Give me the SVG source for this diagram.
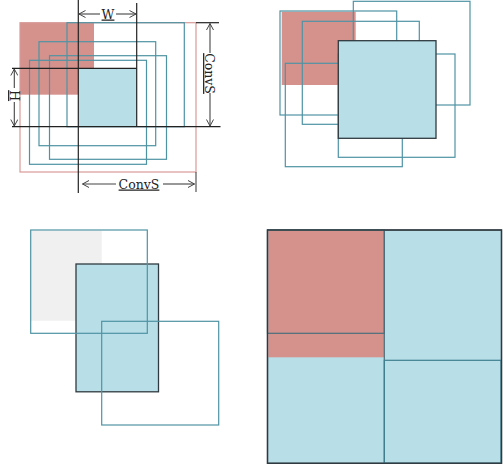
<svg xmlns="http://www.w3.org/2000/svg" width="503" height="465" viewBox="0 0 503 465">
<defs>
<style>
.red{fill:#d5928d;stroke:none}
.blue{fill:#b8dee8;stroke:none}
.blueb{fill:#b8dee8;stroke:#2f3a40;stroke-width:1.3}
.gray{fill:#f0f0f0;stroke:none}
.teal{fill:none;stroke:#4f93a3;stroke-width:1.2}
.redo{fill:none;stroke:#d89a98;stroke-width:1.2}
.blk{fill:none;stroke:#222;stroke-width:1.2}
.dim{fill:none;stroke:#444;stroke-width:1.1}
.lbl{font-family:"DejaVu Serif","Liberation Serif",serif;font-size:12.5px;fill:#222;text-decoration:underline}
</style>
<marker id="ah" viewBox="0 0 8 8" refX="7.5" refY="4" markerWidth="8" markerHeight="8" markerUnits="userSpaceOnUse" orient="auto-start-reverse">
<path d="M1,0.5 L7.5,4 L1,7.5" fill="none" stroke="#444" stroke-width="1"/>
</marker>
</defs>

<g id="panel-tl">
<rect id="tl-redfill" class="red" x="20" y="22.7" width="74" height="72"/>
<rect id="tl-redout" class="redo" x="20" y="22.7" width="176" height="149.3"/>
<rect id="tl-a" class="teal" x="67" y="22.7" width="117.3" height="104"/>
<rect id="tl-b" class="teal" x="39" y="41.7" width="116.7" height="104"/>
<rect id="tl-c" class="teal" x="49.5" y="55.7" width="117" height="103.6"/>
<rect id="tl-d" class="teal" x="29.5" y="60.3" width="117" height="104"/>
<rect id="tl-blue" class="blue" x="78.3" y="68.3" width="58.4" height="58.4"/>
</g>

<g id="connectors">
<line class="blk" x1="78.3" y1="0" x2="78.3" y2="193"/>
<line class="blk" x1="136.7" y1="3" x2="136.7" y2="126.7"/>
<line class="blk" x1="12" y1="68.3" x2="136.7" y2="68.3"/>
<line class="blk" x1="12" y1="126.7" x2="220.5" y2="126.7"/>
<line class="blk" x1="196" y1="22.7" x2="219" y2="22.7"/>
<line class="dim" x1="196" y1="172" x2="196" y2="192"/>
<line class="dim" x1="100" y1="14" x2="79" y2="14" marker-end="url(#ah)"/>
<line class="dim" x1="116" y1="14" x2="136" y2="14" marker-end="url(#ah)"/>
<line class="dim" x1="14.3" y1="88" x2="14.3" y2="69" marker-end="url(#ah)"/>
<line class="dim" x1="14.3" y1="102" x2="14.3" y2="126" marker-end="url(#ah)"/>
<line class="dim" x1="210" y1="53" x2="210" y2="23.5" marker-end="url(#ah)"/>
<line class="dim" x1="210" y1="93" x2="210" y2="126" marker-end="url(#ah)"/>
<line class="dim" x1="116" y1="184" x2="82.5" y2="184" marker-end="url(#ah)"/>
<line class="dim" x1="163" y1="184" x2="194.5" y2="184" marker-end="url(#ah)"/>
</g>

<g id="labels">
<text class="lbl" x="108" y="18.5" text-anchor="middle">W</text>
<text class="lbl" transform="translate(10.3,95.6) rotate(90)" text-anchor="middle">H</text>
<text class="lbl" transform="translate(205.3,73.5) rotate(90)" text-anchor="middle">ConvS</text>
<text class="lbl" x="139" y="188.5" text-anchor="middle">ConvS</text>
</g>

<g id="panel-tr">
<rect id="tr-redfill" class="red" x="281.7" y="11.7" width="74" height="73.3"/>
<rect id="tr-1" class="teal" x="280" y="11" width="116.7" height="104"/>
<rect id="tr-2" class="teal" x="353.3" y="1.3" width="116.7" height="103.7"/>
<rect id="tr-3" class="teal" x="302.3" y="21.3" width="117" height="103"/>
<rect id="tr-4" class="teal" x="285.3" y="63.3" width="117" height="103.4"/>
<rect id="tr-5" class="teal" x="338.3" y="54" width="116.7" height="103.3"/>
<rect id="tr-blue" class="blueb" x="338.3" y="40.7" width="97.7" height="97.6"/>
</g>

<g id="panel-bl">
<rect id="bl-grayfill" class="gray" x="30.7" y="230.7" width="71" height="90"/>
<rect id="bl-blue" class="blueb" x="76" y="264" width="82.5" height="127.8"/>
<rect id="bl-1" class="teal" x="30.7" y="230" width="116.6" height="103.3"/>
<rect id="bl-2" class="teal" x="101.7" y="321.3" width="117" height="103.7"/>
</g>

<g id="panel-br">
<rect id="br-outer" class="blueb" x="267.5" y="230" width="234" height="233.3"/>
<rect id="br-redfill" class="red" x="268.2" y="230.7" width="116" height="126.6"/>
<rect id="br-tl" class="teal" x="267.5" y="230" width="116.8" height="103.3" style="stroke:#4a6f7a"/>
<line id="br-mid" x1="384.3" y1="230" x2="384.3" y2="463.3" stroke="#4a6f7a" stroke-width="1.2"/>
<rect id="br-br" class="teal" x="384.3" y="360.3" width="116.7" height="103" style="stroke:#3f7f90"/>
<rect class="blueb" x="267.5" y="230" width="234" height="233.3" style="fill:none"/>
</g>
</svg>
